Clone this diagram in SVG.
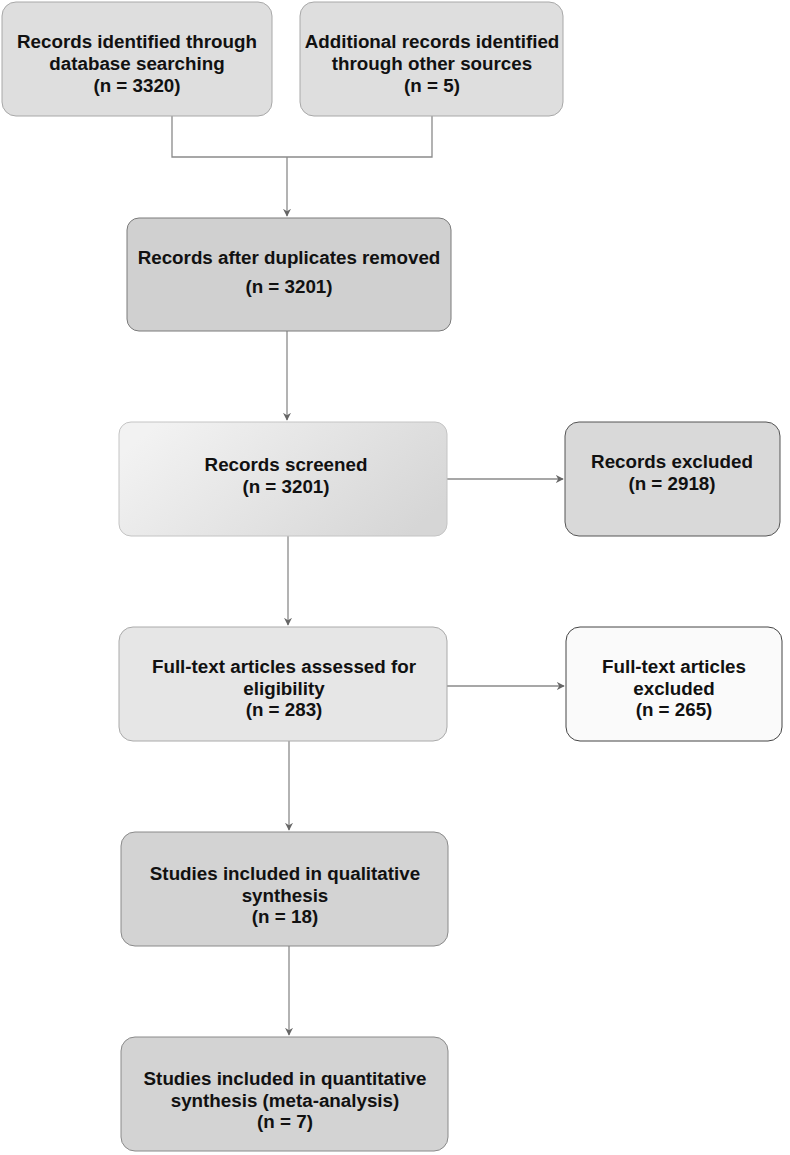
<svg xmlns="http://www.w3.org/2000/svg" width="790" height="1155" viewBox="0 0 790 1155">
<style>
text{font-family:"Liberation Sans",Arial,sans-serif;font-weight:bold;font-size:18.8px;fill:#111;text-anchor:middle}
.c{fill:none;stroke:#8a8a8a;stroke-width:1.3}
</style>
<defs>
<marker id="ah" viewBox="0 0 10 10" refX="9" refY="5" markerWidth="8" markerHeight="8" markerUnits="userSpaceOnUse" orient="auto">
<path d="M0,0 L10,5 L0,10 L3,5 z" fill="#666"/>
</marker>
<linearGradient id="g1" x1="0" y1="0.3" x2="1" y2="0.7">
<stop offset="0" stop-color="#f2f2f2"/>
<stop offset="1" stop-color="#d6d6d6"/>
</linearGradient>
</defs>
<rect width="790" height="1155" fill="#fff"/>
<g id="connectors">
<path class="c" d="M172,116 V157 H432 V116"/>
<path class="c" d="M287,157 V216" marker-end="url(#ah)"/>
<path class="c" d="M287,331 V420" marker-end="url(#ah)"/>
<path class="c" d="M447,479 H563" marker-end="url(#ah)"/>
<path class="c" d="M288,536 V625" marker-end="url(#ah)"/>
<path class="c" d="M447,686 H564" marker-end="url(#ah)"/>
<path class="c" d="M289,741 V830" marker-end="url(#ah)"/>
<path class="c" d="M289,946 V1035" marker-end="url(#ah)"/>
</g>
<g id="n1"><rect x="2" y="2" width="270" height="114" rx="14" fill="#dedede" stroke="#a8a8a8"/>
<text x="137" y="48">Records identified through</text><text x="137" y="70">database searching</text><text x="137" y="92">(n = 3320)</text></g>
<g id="n2"><rect x="300" y="2" width="263" height="114" rx="14" fill="#dedede" stroke="#a8a8a8"/>
<text x="432" y="48">Additional records identified</text><text x="432" y="70">through other sources</text><text x="432" y="92">(n = 5)</text></g>
<g id="n3"><rect x="127" y="218" width="324" height="113" rx="12" fill="#d0d0d0" stroke="#7a7a7a"/>
<text x="289" y="264">Records after duplicates removed</text><text x="289" y="293">(n = 3201)</text></g>
<g id="n4"><rect x="119" y="422" width="328" height="114" rx="12" fill="url(#g1)" stroke="#c4c4c4"/>
<text x="286" y="471">Records screened</text><text x="286" y="493">(n = 3201)</text></g>
<g id="n5"><rect x="565" y="422" width="215" height="114" rx="14" fill="#d9d9d9" stroke="#555"/>
<text x="672" y="468">Records excluded</text><text x="672" y="490">(n = 2918)</text></g>
<g id="n6"><rect x="119" y="627" width="328" height="114" rx="14" fill="#e6e6e6" stroke="#aaa"/>
<text x="284" y="673">Full-text articles assessed for</text><text x="284" y="695">eligibility</text><text x="284" y="716">(n = 283)</text></g>
<g id="n7"><rect x="566" y="627" width="216" height="114" rx="14" fill="#fafafa" stroke="#444"/>
<text x="674" y="673">Full-text articles</text><text x="674" y="695">excluded</text><text x="674" y="716">(n = 265)</text></g>
<g id="n8"><rect x="121" y="832" width="327" height="114" rx="14" fill="#d3d3d3" stroke="#8a8a8a"/>
<text x="285" y="880">Studies included in qualitative</text><text x="285" y="902">synthesis</text><text x="285" y="923">(n = 18)</text></g>
<g id="n9"><rect x="121" y="1037" width="327" height="114" rx="14" fill="#d3d3d3" stroke="#8a8a8a"/>
<text x="285" y="1085">Studies included in quantitative</text><text x="285" y="1107">synthesis (meta-analysis)</text><text x="285" y="1128">(n = 7)</text></g>
</svg>
